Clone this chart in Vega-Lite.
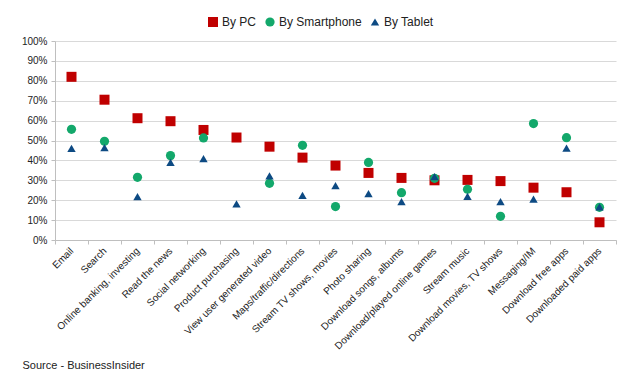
{
  "$schema": "https://vega.github.io/schema/vega-lite/v6.json",
  "width": 561,
  "height": 199,
  "autosize": "none",
  "padding": {"left": 55, "top": 41, "right": 12, "bottom": 136},
  "background": "white",
  "config": {
    "font": "Liberation Sans",
    "view": {"stroke": null},
    "axis": {"labelFont": "Liberation Sans", "labelColor": "#222222", "labelFontSize": 10}
  },
  "data": {
    "values": [
      {"activity": "Email", "device": "By PC", "value": 0.82},
      {"activity": "Search", "device": "By PC", "value": 0.705},
      {"activity": "Online banking, investing", "device": "By PC", "value": 0.612},
      {"activity": "Read the news", "device": "By PC", "value": 0.597},
      {"activity": "Social networking", "device": "By PC", "value": 0.553},
      {"activity": "Product purchasing", "device": "By PC", "value": 0.515},
      {"activity": "View user generated video", "device": "By PC", "value": 0.469},
      {"activity": "Maps/traffic/directions", "device": "By PC", "value": 0.414},
      {"activity": "Stream  TV shows, movies", "device": "By PC", "value": 0.374},
      {"activity": "Photo sharing", "device": "By PC", "value": 0.337},
      {"activity": "Download songs, albums", "device": "By PC", "value": 0.312},
      {"activity": "Download/played online games", "device": "By PC", "value": 0.30},
      {"activity": "Stream music", "device": "By PC", "value": 0.302},
      {"activity": "Download movies, TV shows", "device": "By PC", "value": 0.296},
      {"activity": "Messaging/IM", "device": "By PC", "value": 0.263},
      {"activity": "Download free apps", "device": "By PC", "value": 0.24},
      {"activity": "Downloaded paid apps", "device": "By PC", "value": 0.089},
      {"activity": "Email", "device": "By Smartphone", "value": 0.556},
      {"activity": "Search", "device": "By Smartphone", "value": 0.496},
      {"activity": "Online banking, investing", "device": "By Smartphone", "value": 0.315},
      {"activity": "Read the news", "device": "By Smartphone", "value": 0.424},
      {"activity": "Social networking", "device": "By Smartphone", "value": 0.513},
      {"activity": "View user generated video", "device": "By Smartphone", "value": 0.285},
      {"activity": "Maps/traffic/directions", "device": "By Smartphone", "value": 0.476},
      {"activity": "Stream  TV shows, movies", "device": "By Smartphone", "value": 0.168},
      {"activity": "Photo sharing", "device": "By Smartphone", "value": 0.39},
      {"activity": "Download songs, albums", "device": "By Smartphone", "value": 0.238},
      {"activity": "Download/played online games", "device": "By Smartphone", "value": 0.31},
      {"activity": "Stream music", "device": "By Smartphone", "value": 0.255},
      {"activity": "Download movies, TV shows", "device": "By Smartphone", "value": 0.119},
      {"activity": "Messaging/IM", "device": "By Smartphone", "value": 0.585},
      {"activity": "Download free apps", "device": "By Smartphone", "value": 0.514},
      {"activity": "Downloaded paid apps", "device": "By Smartphone", "value": 0.164},
      {"activity": "Email", "device": "By Tablet", "value": 0.46},
      {"activity": "Search", "device": "By Tablet", "value": 0.464},
      {"activity": "Online banking, investing", "device": "By Tablet", "value": 0.218},
      {"activity": "Read the news", "device": "By Tablet", "value": 0.39},
      {"activity": "Social networking", "device": "By Tablet", "value": 0.409},
      {"activity": "Product purchasing", "device": "By Tablet", "value": 0.181},
      {"activity": "View user generated video", "device": "By Tablet", "value": 0.322},
      {"activity": "Maps/traffic/directions", "device": "By Tablet", "value": 0.224},
      {"activity": "Stream  TV shows, movies", "device": "By Tablet", "value": 0.273},
      {"activity": "Photo sharing", "device": "By Tablet", "value": 0.233},
      {"activity": "Download songs, albums", "device": "By Tablet", "value": 0.193},
      {"activity": "Download/played online games", "device": "By Tablet", "value": 0.318},
      {"activity": "Stream music", "device": "By Tablet", "value": 0.219},
      {"activity": "Download movies, TV shows", "device": "By Tablet", "value": 0.193},
      {"activity": "Messaging/IM", "device": "By Tablet", "value": 0.206},
      {"activity": "Download free apps", "device": "By Tablet", "value": 0.462},
      {"activity": "Downloaded paid apps", "device": "By Tablet", "value": 0.166}
    ]
  },
  "mark": {"type": "point", "filled": true, "opacity": 1},
  "encoding": {
    "x": {
      "field": "activity",
      "type": "nominal",
      "sort": null,
      "scale": {"paddingInner": 0, "paddingOuter": 0},
      "axis": {
        "title": "Source - BusinessInsider",
        "titleX": -33,
        "titleY": 128,
        "titleAlign": "left",
        "titleAnchor": "start",
        "titleBaseline": "alphabetic",
        "titleFont": "Liberation Sans",
        "titleFontSize": 11,
        "titleFontWeight": "normal",
        "titleColor": "#222222",
        "labelAngle": -45,
        "labelAlign": "right",
        "labelBaseline": "middle",
        "labelPadding": 5,
        "tickBand": "extent",
        "tickSize": 4,
        "tickColor": "#bfbfbf",
        "domainColor": "#bfbfbf",
        "grid": false
      }
    },
    "y": {
      "field": "value",
      "type": "quantitative",
      "scale": {"domain": [0, 1], "nice": false},
      "axis": {
        "title": null,
        "format": ".0%",
        "values": [0, 0.1, 0.2, 0.3, 0.4, 0.5, 0.6, 0.7, 0.8, 0.9, 1],
        "grid": true,
        "gridColor": "#d9d9d9",
        "domainColor": "#bfbfbf",
        "tickColor": "#bfbfbf",
        "tickSize": 4,
        "labelPadding": 4
      }
    },
    "color": {
      "field": "device",
      "type": "nominal",
      "scale": {"domain": ["By PC", "By Smartphone", "By Tablet"], "range": ["#c00000", "#13a86b", "#0d4a83"]},
      "legend": {
        "title": null,
        "orient": "none",
        "direction": "horizontal",
        "legendX": 152,
        "legendY": -25,
        "labelFontSize": 12,
        "labelColor": "#222222",
        "columnPadding": 7,
        "labelOffset": 3
      }
    },
    "shape": {
      "field": "device",
      "type": "nominal",
      "scale": {"domain": ["By PC", "By Smartphone", "By Tablet"], "range": ["square", "circle", "triangle-up"]}
    },
    "size": {
      "field": "device",
      "type": "nominal",
      "scale": {"domain": ["By PC", "By Smartphone", "By Tablet"], "range": [100, 70, 165]},
      "legend": null
    },
    "order": {"field": "device"}
  }
}
